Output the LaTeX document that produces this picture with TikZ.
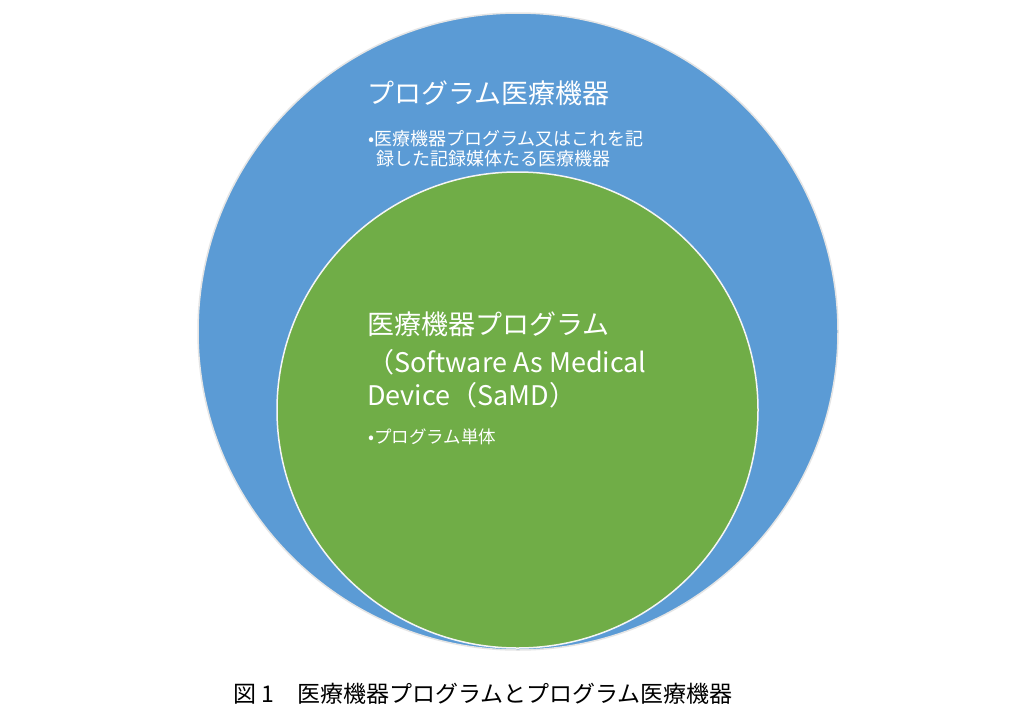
\documentclass[tikz,border=0pt]{standalone}
\usepackage{fontspec}
\setmainfont{Noto Sans CJK JP}
\usetikzlibrary{shapes.geometric}
\definecolor{bluec}{HTML}{5B9BD5}
\definecolor{greenc}{HTML}{70AD47}
\tikzset{
  disc/.style={ellipse, inner sep=0pt, line width=1.5pt},
  whitetext/.style={text=white, inner sep=0pt, anchor=base west, align=left},
  titletext/.style={whitetext, font=\fontsize{27}{33}\selectfont},
  bullettext/.style={whitetext, font=\fontsize{18}{20}\selectfont},
  captiontext/.style={inner sep=0pt, anchor=base west, text=black, font=\fontsize{23}{28}\selectfont}
}
\begin{document}
\begin{tikzpicture}[x=1pt,y=-1pt]
\useasboundingbox (0,0) rectangle (1020,726);
\fill[white] (0,0) rectangle (1020,726);
\node[disc, fill=bluec, draw=gray!20, minimum width=640pt, minimum height=637pt] (outer) at (518,331.5) {};
\node[disc, fill=greenc, draw=white!92!gray, minimum width=481pt, minimum height=476pt] (inner) at (517.5,410) {};
\node[titletext] (outertitle) at (367,103) {プログラム医療機器};
\node[bullettext] (outerbullet) at (368,165) {•医療機器プログラム又はこれを記\\\hspace{8pt}録した記録媒体たる医療機器};
\node[titletext] (innertitle) at (367,405) {医療機器プログラム\\[5pt]（Software As Medical\\Device（SaMD）};
\node[bullettext, font=\fontsize{17.5}{20}\selectfont] (innerbullet) at (368,443) {•プログラム単体};
\node[captiontext] (caption) at (233,702) {図 1　医療機器プログラムとプログラム医療機器};
\end{tikzpicture}
\end{document}
